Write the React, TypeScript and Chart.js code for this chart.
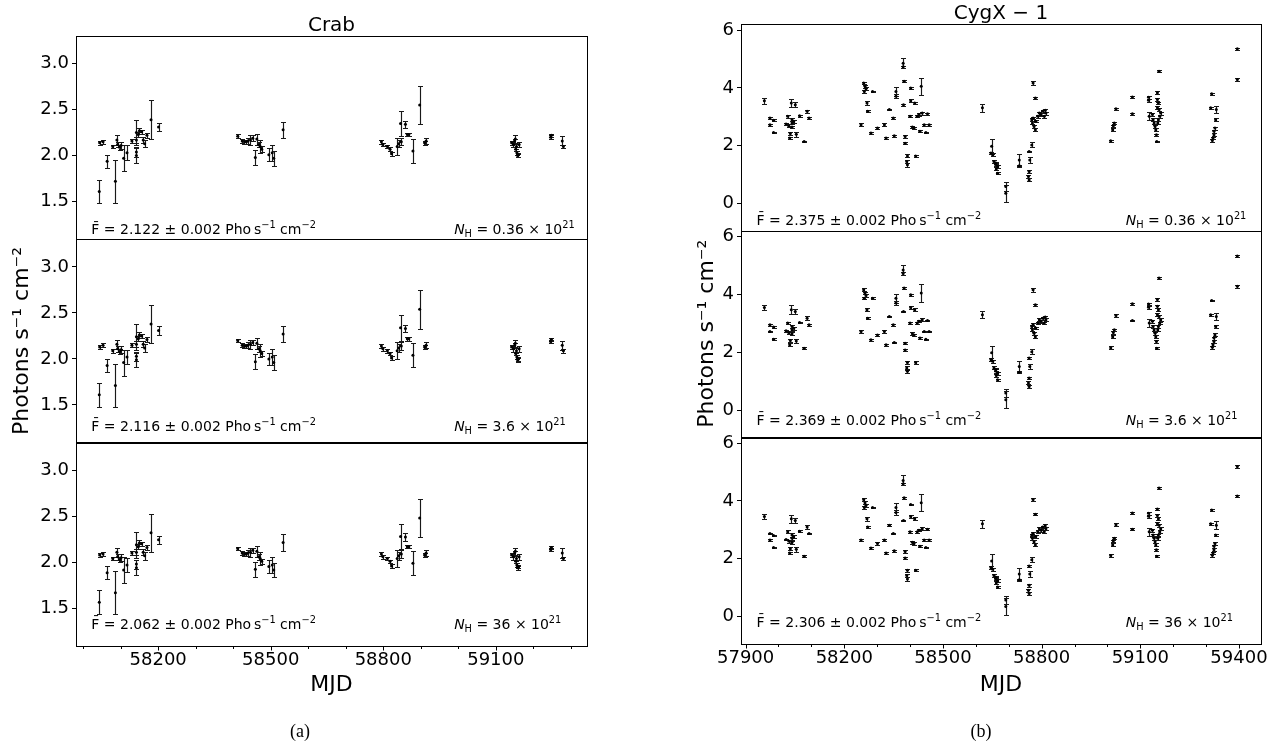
import React, { useEffect, useRef } from 'react';
import { Chart, registerables } from 'chart.js';

Chart.register(...registerables);

const FONT = '"DejaVu Sans", sans-serif';
Chart.defaults.font.family = FONT;
Chart.defaults.color = '#000';

// ---------------- Crab data ----------------
const crabMJD = [
  58044, 58053, 58043, 58064, 58079, 58086, 58090, 58092, 58097, 58101, 58108, 58117, 58130, 58142, 58142, 58142, 58142, 58147, 58150, 58156, 58160, 58164, 58170, 58181, 58201,
  58412, 58424, 58430, 58435, 58439, 58446, 58452, 58459, 58463, 58468, 58472, 58476, 58495, 58504, 58508, 58533,
  58795, 58799, 58811, 58818, 58822, 58837, 58841, 58846, 58848, 58859, 58864, 58868, 58879, 58897, 58910, 58914,
  59142, 59147, 59150, 59152, 59155, 59156, 59158, 59160, 59162, 59153, 59246, 59248, 59277, 59280,
];
const crabErr = [
  0.02, 0.02, 0.13, 0.07, 0.02, 0.23, 0.05, 0.03, 0.03, 0.04, 0.14, 0.08, 0.02, 0.03, 0.05, 0.14, 0.08, 0.03, 0.03, 0.02, 0.03, 0.04, 0.03, 0.21, 0.045,
  0.02, 0.02, 0.02, 0.02, 0.03, 0.05, 0.03, 0.08, 0.06, 0.03, 0.07, 0.03, 0.07, 0.09, 0.08, 0.09,
  0.02, 0.02, 0.02, 0.02, 0.02, 0.09, 0.04, 0.14, 0.04, 0.04, 0.02, 0.02, 0.13, 0.21, 0.02, 0.03,
  0.02, 0.03, 0.02, 0.04, 0.03, 0.02, 0.02, 0.02, 0.03, 0.02, 0.02, 0.02, 0.05, 0.02,
];
const crabFluxNH036 = [
  2.14, 2.15, 1.61, 1.94, 2.10, 1.72, 2.17, 2.12, 2.09, 2.11, 1.97, 2.03, 2.16, 2.17, 2.04, 2.25, 2.00, 2.23, 2.27, 2.26, 2.17, 2.13, 2.22, 2.39, 2.31,
  2.21, 2.16, 2.15, 2.15, 2.16, 2.17, 2.19, 1.98, 2.18, 2.12, 2.10, 2.07, 2.01, 2.03, 1.97, 2.28,
  2.15, 2.12, 2.10, 2.07, 2.02, 2.10, 2.13, 2.35, 2.15, 2.34, 2.23, 2.23, 2.05, 2.55, 2.14, 2.16,
  2.14, 2.12, 2.16, 2.18, 2.10, 2.03, 2.00, 2.01, 2.12, 2.07, 2.20, 2.22, 2.16, 2.10,
];
const crabFluxNH3p6 = [
  2.13, 2.15, 1.61, 1.93, 2.09, 1.71, 2.16, 2.11, 2.08, 2.10, 1.96, 2.02, 2.15, 2.16, 2.03, 2.24, 1.99, 2.22, 2.26, 2.25, 2.16, 2.12, 2.21, 2.38, 2.31,
  2.20, 2.15, 2.14, 2.14, 2.15, 2.16, 2.18, 1.97, 2.17, 2.11, 2.09, 2.06, 2.00, 2.02, 1.96, 2.27,
  2.14, 2.11, 2.09, 2.06, 2.01, 2.09, 2.12, 2.34, 2.14, 2.33, 2.22, 2.22, 2.04, 2.54, 2.13, 2.15,
  2.13, 2.11, 2.15, 2.17, 2.09, 2.02, 1.99, 2.00, 2.11, 2.06, 2.19, 2.21, 2.15, 2.09,
];
const crabFluxNH36 = [
  2.08, 2.09, 1.565, 1.886, 2.04, 1.67, 2.11, 2.06, 2.03, 2.05, 1.915, 1.97, 2.10, 2.11, 1.98, 2.19, 1.94, 2.17, 2.21, 2.20, 2.11, 2.07, 2.16, 2.32, 2.245,
  2.15, 2.10, 2.09, 2.09, 2.10, 2.11, 2.13, 1.925, 2.12, 2.06, 2.04, 2.01, 1.955, 1.97, 1.915, 2.215,
  2.09, 2.06, 2.04, 2.01, 1.96, 2.04, 2.07, 2.28, 2.09, 2.275, 2.17, 2.17, 1.99, 2.48, 2.08, 2.10,
  2.08, 2.06, 2.10, 2.12, 2.04, 1.97, 1.94, 1.955, 2.06, 2.01, 2.14, 2.16, 2.10, 2.04,
];
const crabMeans = ['2.122', '2.116', '2.062'];
const crabNH = ['0.36', '3.6', '36'];
const crabYTicks = [1.5, 2.0, 2.5, 3.0];
const crabXMajor = [58200, 58500, 58800, 59100];
const crabXMinor = [58000, 58100, 58300, 58400, 58600, 58700, 58900, 59000, 59200, 59300];

// ---------------- Cyg X-1 data ----------------
const cygMJD = [
  57957, 57974, 57974, 57985, 57985, 58023, 58028, 58031, 58034, 58036, 58039, 58041, 58041, 58041, 58046, 58051, 58054, 58064, 58078, 58087, 58093,
  58251, 58259, 58263, 58266, 58261, 58269, 58271, 58286, 58281, 58301, 58322, 58327, 58337, 58349, 58352, 58357, 58357, 58379, 58379, 58382, 58380,
  58385, 58385, 58392, 58392, 58390, 58400, 58402, 58402, 58407, 58412, 58417, 58414, 58422, 58427, 58434, 58430, 58437, 58448, 58443, 58458, 58453,
  58620, 58648, 58646, 58651, 58655, 58660, 58662, 58666, 58666, 58661, 58691, 58691, 58732, 58732, 58762, 58760, 58762, 58764,
  58770, 58762, 58774, 58781, 58770, 58772, 58777, 58781, 58774, 58782, 58788, 58793, 58798, 58803, 58811, 58813, 58808,
  59010, 59016, 59018, 59021, 59026, 59076, 59076, 59125, 59125, 59127, 59137, 59139, 59142, 59145,
  59147, 59149, 59152, 59152, 59155, 59157, 59152, 59157, 59162, 59159, 59155, 59153, 59150,
  59317, 59314, 59324, 59321, 59319, 59331, 59329, 59327, 59324,
  59395, 59395,
];
const cygErr = [
  0.10, 0.03, 0.03, 0.03, 0.03, 0.03, 0.05, 0.05, 0.05, 0.04, 0.15, 0.06, 0.05, 0.05, 0.05, 0.08, 0.08, 0.03, 0.03, 0.06, 0.03,
  0.05, 0.05, 0.05, 0.05, 0.04, 0.06, 0.03, 0.03, 0.03, 0.04, 0.04, 0.03, 0.03, 0.03, 0.03, 0.15, 0.07, 0.17, 0.04, 0.04, 0.03,
  0.04, 0.03, 0.05, 0.06, 0.05, 0.03, 0.03, 0.06, 0.05, 0.04, 0.04, 0.05, 0.04, 0.04, 0.30, 0.03, 0.05, 0.02, 0.03, 0.03, 0.03,
  0.13, 0.25, 0.05, 0.05, 0.05, 0.06, 0.05, 0.05, 0.04, 0.04, 0.15, 0.30, 0.20, 0.04, 0.04, 0.05, 0.05, 0.10,
  0.09, 0.03, 0.06, 0.03, 0.05, 0.05, 0.05, 0.05, 0.05, 0.04, 0.05, 0.05, 0.05, 0.05, 0.05, 0.05, 0.05,
  0.04, 0.05, 0.04, 0.03, 0.04, 0.03, 0.03, 0.05, 0.05, 0.13, 0.05, 0.05, 0.05, 0.05,
  0.05, 0.04, 0.05, 0.05, 0.05, 0.03, 0.05, 0.05, 0.05, 0.05, 0.05, 0.05, 0.03,
  0.03, 0.03, 0.05, 0.05, 0.05, 0.13, 0.05, 0.05, 0.05,
  0.04, 0.05,
];
const cygFluxNH036 = [
  3.56, 2.96, 2.73, 2.88, 2.46, 2.75, 3.02, 2.69, 2.27, 2.42, 3.48, 2.90, 2.79, 2.65, 2.84, 3.42, 2.40, 3.04, 2.15, 3.19, 2.96,
  2.73, 4.17, 4.06, 3.97, 3.88, 3.48, 3.19, 3.88, 2.44, 2.61, 2.73, 2.27, 3.25, 2.96, 2.35, 3.88, 3.71, 4.85, 4.73, 4.23, 3.42,
  2.32, 2.09, 1.65, 1.34, 1.46, 3.02, 4.00, 3.56, 2.65, 2.61, 1.65, 3.48, 3.02, 3.08, 4.06, 2.50, 3.13, 2.46, 2.73, 2.73, 3.11,
  3.31, 1.98, 1.75, 1.69, 1.46, 1.35, 1.20, 1.28, 1.05, 1.40, 0.59, 0.36, 1.51, 1.31, 1.11, 0.94, 0.82, 1.51,
  2.03, 1.80, 4.17, 3.65, 2.90, 2.79, 2.67, 2.55, 2.96, 2.85, 3.02, 3.13, 3.08, 3.19, 3.23, 3.13, 3.02,
  2.17, 2.55, 2.69, 2.79, 3.28, 3.69, 3.11, 3.68, 3.57, 3.02, 3.08, 2.90, 2.79, 2.67,
  2.55, 2.38, 3.83, 3.60, 3.48, 4.58, 3.31, 3.25, 3.13, 3.02, 2.90, 2.79, 2.15,
  3.80, 3.31, 2.38, 2.27, 2.18, 3.25, 2.90, 2.61, 2.50,
  5.35, 4.29,
];
const cygFluxNH3p6 = [
  3.55, 2.95, 2.72, 2.87, 2.45, 2.74, 3.01, 2.68, 2.26, 2.41, 3.47, 2.89, 2.78, 2.64, 2.83, 3.41, 2.39, 3.03, 2.14, 3.18, 2.95,
  2.72, 4.16, 4.05, 3.96, 3.87, 3.47, 3.18, 3.87, 2.43, 2.60, 2.72, 2.26, 3.24, 2.95, 2.34, 3.87, 3.70, 4.84, 4.72, 4.22, 3.41,
  2.31, 2.08, 1.65, 1.34, 1.46, 3.01, 3.99, 3.55, 2.64, 2.60, 1.65, 3.47, 3.01, 3.07, 4.05, 2.49, 3.12, 2.45, 2.72, 2.72, 3.10,
  3.30, 1.98, 1.75, 1.69, 1.46, 1.35, 1.20, 1.28, 1.05, 1.40, 0.59, 0.36, 1.51, 1.31, 1.11, 0.94, 0.82, 1.51,
  2.02, 1.80, 4.16, 3.64, 2.89, 2.78, 2.66, 2.54, 2.95, 2.84, 3.01, 3.12, 3.07, 3.18, 3.22, 3.12, 3.01,
  2.16, 2.54, 2.68, 2.78, 3.27, 3.68, 3.10, 3.67, 3.56, 3.01, 3.07, 2.89, 2.78, 2.66,
  2.54, 2.37, 3.82, 3.59, 3.47, 4.57, 3.30, 3.24, 3.12, 3.01, 2.89, 2.78, 2.14,
  3.79, 3.30, 2.37, 2.26, 2.17, 3.24, 2.89, 2.60, 2.49,
  5.33, 4.28,
];
const cygFluxNH36 = [
  3.46, 2.87, 2.65, 2.80, 2.39, 2.67, 2.93, 2.61, 2.20, 2.35, 3.38, 2.82, 2.71, 2.57, 2.76, 3.32, 2.33, 2.95, 2.09, 3.10, 2.87,
  2.65, 4.05, 3.94, 3.85, 3.77, 3.38, 3.10, 3.77, 2.37, 2.53, 2.65, 2.20, 3.16, 2.87, 2.28, 3.77, 3.60, 4.71, 4.59, 4.11, 3.32,
  2.25, 2.03, 1.60, 1.30, 1.42, 2.93, 3.88, 3.46, 2.57, 2.53, 1.60, 3.38, 2.93, 2.99, 3.94, 2.43, 3.04, 2.39, 2.65, 2.65, 3.02,
  3.21, 1.92, 1.70, 1.64, 1.42, 1.31, 1.17, 1.24, 1.02, 1.36, 0.57, 0.35, 1.47, 1.27, 1.08, 0.91, 0.80, 1.47,
  1.97, 1.75, 4.05, 3.54, 2.82, 2.71, 2.59, 2.48, 2.87, 2.77, 2.93, 3.04, 2.99, 3.10, 3.14, 3.04, 2.93,
  2.11, 2.48, 2.61, 2.71, 3.18, 3.58, 3.02, 3.57, 3.47, 2.93, 2.99, 2.82, 2.71, 2.59,
  2.48, 2.31, 3.72, 3.50, 3.38, 4.45, 3.21, 3.16, 3.04, 2.93, 2.82, 2.71, 2.09,
  3.69, 3.21, 2.31, 2.20, 2.12, 3.16, 2.82, 2.53, 2.43,
  5.19, 4.17,
];
const cygMeans = ['2.375', '2.369', '2.306'];
const cygNH = ['0.36', '3.6', '36'];
const cygYTicks = [0, 2, 4, 6];
const cygXMajor = [57900, 58200, 58500, 58800, 59100, 59400];
const cygXMinor = [58000, 58100, 58300, 58400, 58600, 58700, 58900, 59000, 59200, 59300];

const Y_LABEL = 'Photons s\u207B\u00B9 cm\u207B\u00B2';

const crabCfg = {
  title: 'Crab',
  mjd: crabMJD, err: crabErr,
  flux: [crabFluxNH036, crabFluxNH3p6, crabFluxNH36],
  means: crabMeans, nh: crabNH,
  xMin: 57981, xMax: 59343, yMin: 1.09, yMax: 3.30,
  yTicks: crabYTicks, yDec: 1,
  xMajor: crabXMajor, xMinor: crabXMinor,
  textOffsets: [10, 17, 22],
  width: 630,
  pad: { left: 6, right: 43, top: 36, bottom: 47 },
  yTitlePad: 3,
  xAxisH: 52,
};

const cygCfg = {
  title: 'CygX \u2212 1',
  mjd: cygMJD, err: cygErr,
  flux: [cygFluxNH036, cygFluxNH3p6, cygFluxNH36],
  means: cygMeans, nh: cygNH,
  xMin: 57886, xMax: 59467, yMin: -0.93, yMax: 6.21,
  yTicks: cygYTicks, yDec: 0,
  xMajor: cygXMajor, xMinor: cygXMinor,
  textOffsets: [11, 17, 21.5],
  width: 643,
  pad: { left: 31, right: 22, top: 24, bottom: 46.5 },
  yTitlePad: 23,
  xAxisH: 55,
};

const IDS = ['yTop', 'yMid', 'yBot'];

type Seg = { t: string; s?: number; dy?: number; it?: boolean };

function drawRich(ctx: CanvasRenderingContext2D, x: number, y: number, segs: Seg[], size: number) {
  let cx = x;
  ctx.textAlign = 'left';
  ctx.textBaseline = 'alphabetic';
  for (const g of segs) {
    const fs = size * (g.s ?? 1);
    ctx.font = `${g.it ? 'italic ' : ''}${fs}px ${FONT}`;
    ctx.fillText(g.t, cx, y + (g.dy ?? 0) * size);
    cx += ctx.measureText(g.t).width;
  }
}

function decor(cfg: any) {
  return {
    id: 'decor',
    beforeDatasetsDraw(chart: any) {
      const ctx = chart.ctx;
      const xs = chart.scales.x;
      ctx.save();
      ctx.strokeStyle = 'rgba(0,0,0,0.9)';
      ctx.lineWidth = 1.15;
      chart.data.datasets.forEach((ds: any) => {
        const ys = chart.scales[ds.yAxisID];
        ctx.beginPath();
        ds.data.forEach((p: any, j: number) => {
          const e = ds.errors[j];
          const xi = Math.round(xs.getPixelForValue(p.x));
          const px = xi + 0.5;
          const t = Math.round(ys.getPixelForValue(p.y + e)) + 0.5;
          const b = Math.round(ys.getPixelForValue(p.y - e)) + 0.5;
          ctx.moveTo(px, t);
          ctx.lineTo(px, b);
          ctx.moveTo(xi - 2, t);
          ctx.lineTo(xi + 3, t);
          ctx.moveTo(xi - 2, b);
          ctx.lineTo(xi + 3, b);
        });
        ctx.stroke();
      });
      ctx.restore();
    },
    afterDraw(chart: any) {
      const ctx = chart.ctx;
      const ca = chart.chartArea;
      const xs = chart.scales.x;
      const w = ca.right - ca.left;
      ctx.save();
      ctx.strokeStyle = '#000';
      ctx.lineWidth = 1;
      IDS.forEach((id) => {
        const s = chart.scales[id];
        ctx.strokeRect(Math.round(ca.left) + 0.5, Math.round(s.top) + 0.5, Math.round(w), Math.round(s.bottom - s.top));
      });
      // x tick marks
      ctx.beginPath();
      const yb = Math.round(ca.bottom) + 0.5;
      cfg.xMajor.forEach((v: number) => {
        const px = Math.round(xs.getPixelForValue(v)) + 0.5;
        ctx.moveTo(px, yb);
        ctx.lineTo(px, yb + 4);
      });
      cfg.xMinor.forEach((v: number) => {
        const px = Math.round(xs.getPixelForValue(v)) + 0.5;
        ctx.moveTo(px, yb);
        ctx.lineTo(px, yb + 2.5);
      });
      ctx.stroke();
      // title
      ctx.fillStyle = '#000';
      ctx.font = `20px ${FONT}`;
      ctx.textAlign = 'center';
      ctx.textBaseline = 'alphabetic';
      ctx.fillText(cfg.title, (ca.left + ca.right) / 2, ca.top - 5);
      // annotations
      const fs = 14;
      IDS.forEach((id, i) => {
        const s = chart.scales[id];
        const base = s.bottom - cfg.textOffsets[i] + 5;
        drawRich(ctx, ca.left + 0.03 * w, base, [
          { t: 'F\u0304' },
          { t: ' = ' + cfg.means[i] + ' \u00B1 0.002 Pho' },
          { t: '\u2009s' },
          { t: '\u22121', s: 0.7, dy: -0.42 },
          { t: ' cm' },
          { t: '\u22122', s: 0.7, dy: -0.42 },
        ], fs);
        drawRich(ctx, ca.left + 0.74 * w, base, [
          { t: 'N', it: true },
          { t: 'H', s: 0.7, dy: 0.22 },
          { t: ' = ' + cfg.nh[i] + ' \u00D7 10' },
          { t: '21', s: 0.7, dy: -0.42 },
        ], fs);
      });
      ctx.restore();
    },
  };
}

function Panel({ cfg, left }: { cfg: any; left: number }) {
  const ref = useRef<HTMLCanvasElement>(null);
  useEffect(() => {
    if (!ref.current) return;
    const datasets = cfg.flux.map((f: number[], i: number) => ({
      label: 'NH ' + cfg.nh[i],
      data: cfg.mjd.map((m: number, j: number) => ({ x: m, y: f[j] })),
      errors: cfg.err,
      xAxisID: 'x',
      yAxisID: IDS[i],
      showLine: false,
      pointRadius: 1.5,
      pointHoverRadius: 0,
      pointBackgroundColor: '#000',
      pointBorderColor: '#000',
      pointBorderWidth: 0,
    }));
    const yAxis = (id: string) => ({
      type: 'linear',
      position: 'left',
      stack: 'panel',
      stackWeight: 1,
      min: cfg.yMin,
      max: cfg.yMax,
      afterBuildTicks: (s: any) => {
        s.ticks = cfg.yTicks.map((v: number) => ({ value: v }));
      },
      afterFit: (s: any) => {
        s.width = 70;
      },
      grid: { display: true, drawOnChartArea: false, drawTicks: true, tickLength: 4, tickColor: '#000', tickWidth: 1 },
      border: { display: false },
      ticks: {
        color: '#000',
        font: { family: FONT, size: 18 },
        padding: 3,
        autoSkip: false,
        callback: (v: any) => Number(v).toFixed(cfg.yDec),
      },
      title: id === 'yMid'
        ? { display: true, text: Y_LABEL, color: '#000', font: { family: FONT, size: 22 }, padding: { top: cfg.yTitlePad, bottom: 0 } }
        : { display: false },
    });
    const scales: any = {};
    ['yBot', 'yMid', 'yTop'].forEach((id) => {
      scales[id] = yAxis(id);
    });
    scales.x = {
      type: 'linear',
      position: 'bottom',
      min: cfg.xMin,
      max: cfg.xMax,
      afterBuildTicks: (s: any) => {
        s.ticks = cfg.xMajor.map((v: number) => ({ value: v }));
      },
      afterFit: (s: any) => {
        s.height = cfg.xAxisH;
      },
      grid: { display: false, drawTicks: false, tickLength: 0 },
      border: { display: false },
      ticks: {
        color: '#000',
        font: { family: FONT, size: 18 },
        padding: 4,
        maxRotation: 0,
        autoSkip: false,
        callback: (v: any) => String(v),
      },
      title: { display: true, text: 'MJD', color: '#000', font: { family: FONT, size: 22 }, padding: { top: 0, bottom: 0 } },
    };
    const chart = new Chart(ref.current, {
      type: 'scatter',
      data: { datasets },
      options: {
        responsive: false,
        animation: false,
        events: [],
        layout: { padding: cfg.pad },
        plugins: { legend: { display: false }, tooltip: { enabled: false }, title: { display: false } },
        scales,
      },
      plugins: [decor(cfg)],
    } as any);
    return () => chart.destroy();
  }, [cfg]);
  return (
    <canvas
      ref={ref}
      width={cfg.width}
      height={745}
      style={{ position: 'absolute', left, top: 0, width: cfg.width, height: 745 }}
    />
  );
}

const captionStyle: any = {
  position: 'absolute',
  top: 721,
  width: 60,
  textAlign: 'center',
  fontFamily: '"Liberation Serif", "Times New Roman", serif',
  fontSize: 18,
  lineHeight: '20px',
  color: '#000',
};

export default function App() {
  return (
    <div style={{ position: 'absolute', left: 0, top: 0, width: 1283, height: 745, background: '#fff', overflow: 'hidden' }}>
      <Panel cfg={crabCfg} left={0} />
      <Panel cfg={cygCfg} left={640} />
      <div style={{ ...captionStyle, left: 270 }}>(a)</div>
      <div style={{ ...captionStyle, left: 951 }}>(b)</div>
    </div>
  );
}
